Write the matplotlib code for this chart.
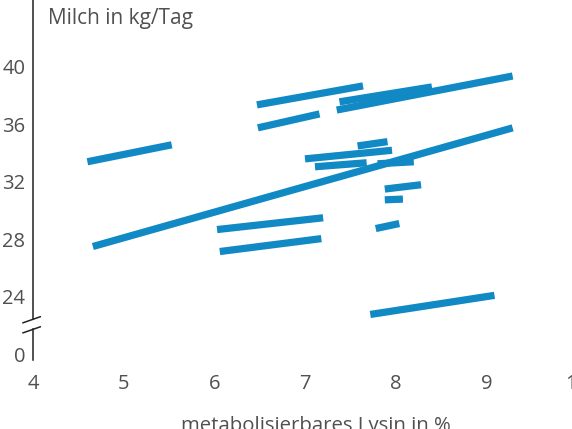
import numpy as np
import matplotlib.pyplot as plt

plt.rcParams['font.family'] = ['Open Sans', 'DejaVu Sans']

# segment endpoints: lysine % (x) and milk kg/day (y)
x_start = [4.60, 4.66, 7.35, 6.47, 6.48, 7.38, 7.58, 7.00, 7.11, 7.80, 7.88, 7.88, 7.78, 6.03, 6.06, 7.72]
x_end   = [5.53, 9.29, 9.29, 7.64, 7.16, 8.40, 7.91, 7.96, 7.68, 8.20, 8.28, 8.08, 8.04, 7.20, 7.18, 9.09]
y_start = [33.4, 27.5, 37.0, 37.36, 35.76, 37.57, 34.5, 33.6, 33.05, 33.26, 31.5, 30.75, 28.75, 28.68, 27.15, 22.77]
y_end   = [34.58, 35.76, 39.37, 38.68, 36.73, 38.61, 34.8, 34.2, 33.33, 33.4, 31.8, 30.8, 29.1, 29.5, 28.05, 24.1]

x_ticks = [4, 5, 6, 7, 8, 9, 10]
y_ticks = [20, 24, 28, 32, 36, 40]
y_tick_labels = ['0', '24', '28', '32', '36', '40']

blue = '#1089c4'
grey = '#505050'

fig = plt.figure(figsize=(5.72, 4.29), dpi=100)
ax = fig.add_axes([33 / 572, 1 - 360 / 429, 544 / 572, 360 / 429])
ax.set_xlim(4, 10)
ax.set_ylim(19.6, 44.66)

for xs, xe, ys, ye in zip(x_start, x_end, y_start, y_end):
    ax.plot([xs, xe], [ys, ye], color=blue, lw=5.2, solid_capstyle='butt')

for s in ax.spines.values():
    s.set_visible(False)

# y axis line with break
brk_hi, brk_lo = 22.47, 21.77
ax.plot([4, 4], [brk_hi, 44.66], color='#222222', lw=1.1, clip_on=False)
ax.plot([4, 4], [19.6, brk_lo], color='#222222', lw=1.1, clip_on=False)
for yb in (brk_hi - 0.07, brk_lo - 0.07):
    ax.plot([3.89, 4.08], [yb - 0.21, yb + 0.21], color='#222222', lw=1.1, clip_on=False)

ax.set_xticks(x_ticks)
ax.set_yticks(y_ticks)
ax.set_yticklabels(y_tick_labels)
ax.tick_params(length=0, labelsize=14.5, labelcolor=grey)
ax.tick_params(axis='y', pad=5.5)
ax.tick_params(axis='x', pad=10)

fig.text(48 / 572, 1 - 24 / 429, 'Milch in kg/Tag', fontsize=15, color=grey,
         ha='left', va='baseline')
fig.text(316 / 572, -2 / 429, 'metabolisierbares Lysin in %', fontsize=14.7, color=grey,
         ha='center', va='baseline')

fig.savefig('out.png', dpi=100)
